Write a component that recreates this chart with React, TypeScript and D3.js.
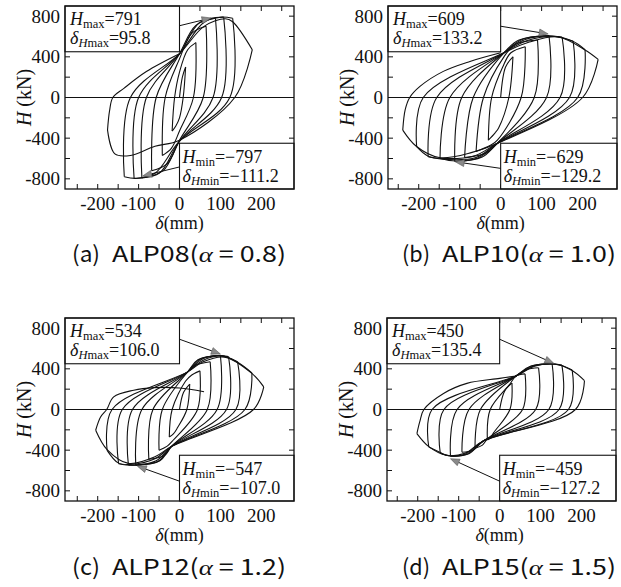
import React from 'react';
import * as d3 from 'd3';

type P = [number, number];

// ---------- axis ticks ----------
const X_TICKS = [-250, -200, -150, -100, -50, 0, 50, 100, 150, 200, 250];
const X_LABELS = [-200, -100, 0, 100, 200];
const Y_TICKS = [-800, -600, -400, -200, 0, 200, 400, 600, 800];
const Y_LABELS = [-800, -400, 0, 400, 800];

// ---------- (a) ALP08 ----------
const aPosPeaks: P[] = [[15, 300], [40, 540], [65, 700], [88, 780], [108, 791], [130, 780], [178, 470]];
const aPosKnees: P[][] = [[[7, 200]], [[20, 470]], [[30, 630]], [[40, 710]], [[50, 740]], [[60, 740], [100, 790]], [[60, 700], [112, 775], [130, 745]]];
const aPosPinch: P[] = [[0, 0], [0, 250], [0, 380], [0, 430], [0, 430], [0, 430], [0, 430]];
const aPosZero = [9, 34, 58, 82, 103, 123, 135];
const aNegPinch: P[] = [[0, -200], [0, -330], [0, -420], [0, -430], [0, -430], [0, -430], [0, -420]];
const aNegPeaks: P[] = [[-18, -330], [-42, -570], [-68, -720], [-92, -790], [-111, -797], [-135, -780], [-176, -320]];
const aNegKnees: P[][] = [[[-9, -280]], [[-20, -500]], [[-30, -650]], [[-40, -720]], [[-50, -745]], [[-60, -745], [-105, -795]], [[-60, -480], [-120, -570], [-158, -555]]];
const aNegZero = [-12, -35, -57, -81, -100, -120];
const aTail: P[] = [[-171, -130], [-163, 0], [-136, 90], [-81, 255], [0, 430]];
const aArrowUp: P[] = [[0, 706], [77, 782]];
const aArrowDown: P[] = [[0, -683], [-90, -772]];

// ---------- (b) ALP10 ----------
const bPosPeaks: P[] = [[30, 400], [60, 500], [90, 565], [118, 609], [150, 595], [177, 553], [206, 470], [238, 375]];
const bPosKnees: P[][] = [[[12, 300]], [[25, 440]], [[35, 520]], [[45, 565]], [[55, 575], [110, 605]], [[60, 570], [125, 605]], [[65, 560], [130, 600], [175, 555]], [[70, 545], [140, 595], [205, 470]]];
const bPosPinch: P[] = [[0, 0], [5, 300], [8, 400], [8, 440], [8, 440], [8, 440], [8, 440], [8, 440]];
const bPosZero = [20, 50, 82, 112, 145, 168, 188, 200];
const bNegPinch: P[] = [[-5, -300], [-8, -420], [-8, -450], [-8, -450], [-8, -450], [-8, -450], [-8, -450], [-8, -450]];
const bNegPeaks: P[] = [[-30, -420], [-60, -530], [-88, -590], [-112, -629], [-148, -600], [-177, -582], [-205, -484], [-239, -321]];
const bNegKnees: P[][] = [[[-14, -350]], [[-25, -470]], [[-35, -545]], [[-45, -585]], [[-55, -595], [-110, -625]], [[-60, -590], [-130, -610]], [[-65, -575], [-140, -600], [-178, -575]], [[-70, -540], [-150, -590], [-206, -480]]];
const bNegZero = [-22, -42, -67, -95, -124, -156, -189];
const bTail: P[] = [[-233, -120], [-222, 0], [-197, 109], [-140, 257], [-75, 355], [0, 440]];
const bArrowUp: P[] = [[0, 701], [116, 625]];
const bArrowDown: P[] = [[0, -697], [-111, -632]];

// ---------- (c) ALP12 ----------
const cPosPeaks: P[] = [[25, 250], [50, 380], [75, 470], [100, 534], [120, 520], [142, 470], [177, 361], [206, 223]];
const cPosKnees: P[][] = [[[10, 170]], [[30, 340]], [[35, 430]], [[45, 490]], [[50, 495], [95, 530]], [[55, 495], [100, 530]], [[58, 485], [105, 525], [142, 465]], [[58, 470], [110, 515], [177, 355]]];
const cPosPinch: P[] = [[0, 0], [15, 280], [20, 370], [20, 370], [20, 370], [20, 370], [20, 370], [20, 370]];
const cPosZero = [18, 44, 68, 92, 115, 138, 160, 181];
const cNegPinch: P[] = [[-5, -180], [-15, -300], [-20, -365], [-20, -365], [-20, -365], [-20, -365], [-20, -365], [-20, -365]];
const cNegPeaks: P[] = [[-25, -270], [-50, -400], [-75, -490], [-107, -547], [-125, -545], [-149, -533], [-177, -402], [-205, -204]];
const cNegKnees: P[][] = [[[-15, -240]], [[-30, -360]], [[-36, -450]], [[-48, -505]], [[-52, -510], [-100, -545]], [[-57, -505], [-112, -548]], [[-60, -485], [-120, -540], [-150, -525]], [[-60, -465], [-125, -530], [-177, -395]]];
const cNegZero = [-18, -42, -65, -92, -115, -140, -165];
const cTail: P[] = [[-193, -73], [-178, 0], [-161, 124], [-112, 190], [-62, 215], [0, 212], [60, 175]];
const cArrowUp: P[] = [[0, 691], [100, 546]];
const cArrowDown: P[] = [[0, -705], [-103, -557]];

// ---------- (d) ALP15 ----------
const dPosPeaks: P[] = [[30, 260], [62, 350], [95, 410], [128, 450], [152, 437], [177, 388], [207, 283]];
const dPosKnees: P[][] = [[[12, 180]], [[40, 330]], [[65, 390]], [[75, 425]], [[80, 430], [125, 450]], [[85, 430], [130, 448], [152, 432]], [[85, 425], [135, 445], [177, 383]]];
const dPosPinch: P[] = [[0, 0], [25, 250], [40, 330], [40, 330], [40, 330], [40, 330], [40, 330]];
const dPosZero = [25, 56, 88, 120, 145, 168, 185];
const dNegPinch: P[] = [[-15, -230], [-30, -290], [-40, -310], [-40, -310], [-40, -310], [-40, -310], [-40, -310]];
const dNegPeaks: P[] = [[-30, -300], [-60, -380], [-92, -420], [-120, -459], [-145, -428], [-173, -369], [-202, -237]];
const dNegKnees: P[][] = [[[-22, -280]], [[-42, -350]], [[-65, -400]], [[-75, -435]], [[-80, -440], [-118, -458]], [[-85, -440], [-125, -455], [-145, -423]], [[-85, -430], [-130, -450], [-173, -365]]];
const dNegZero = [-23, -47, -75, -104, -136, -165];
const dTail: P[] = [[-195, -120], [-185, 0], [-137, 158], [-80, 257], [0, 306], [40, 330]];
const dArrowUp: P[] = [[0, 691], [132, 454]];
const dArrowDown: P[] = [[0, -705], [-120, -484]];

// ---------- annotations ----------
const H_MAX = ['791', '609', '534', '450'];
const D_H_MAX = ['95.8', '133.2', '106.0', '135.4'];
const H_MIN = ['\u2212797', '\u2212629', '\u2212547', '\u2212459'];
const D_H_MIN = ['\u2212111.2', '\u2212129.2', '\u2212107.0', '\u2212127.2'];
const TAGS = ['(a)', '(b)', '(c)', '(d)'];
const SPECIMENS = ['ALP08', 'ALP10', 'ALP12', 'ALP15'];
const ALPHAS = ['0.8', '1.0', '1.2', '1.5'];

const SERIF = "'Liberation Serif', 'Times New Roman', serif";
const W = 229;
const HT = 183;

interface PanelData {
  posPeaks: P[]; posKnees: P[][]; posPinch: P[]; posZero: number[];
  negPinch: P[]; negPeaks: P[]; negKnees: P[][]; negZero: number[];
  tail: P[]; arrowUp: P[]; arrowDown: P[];
}

const PANELS: PanelData[] = [
  { posPeaks: aPosPeaks, posKnees: aPosKnees, posPinch: aPosPinch, posZero: aPosZero, negPinch: aNegPinch, negPeaks: aNegPeaks, negKnees: aNegKnees, negZero: aNegZero, tail: aTail, arrowUp: aArrowUp, arrowDown: aArrowDown },
  { posPeaks: bPosPeaks, posKnees: bPosKnees, posPinch: bPosPinch, posZero: bPosZero, negPinch: bNegPinch, negPeaks: bNegPeaks, negKnees: bNegKnees, negZero: bNegZero, tail: bTail, arrowUp: bArrowUp, arrowDown: bArrowDown },
  { posPeaks: cPosPeaks, posKnees: cPosKnees, posPinch: cPosPinch, posZero: cPosZero, negPinch: cNegPinch, negPeaks: cNegPeaks, negKnees: cNegKnees, negZero: cNegZero, tail: cTail, arrowUp: cArrowUp, arrowDown: cArrowDown },
  { posPeaks: dPosPeaks, posKnees: dPosKnees, posPinch: dPosPinch, posZero: dPosZero, negPinch: dNegPinch, negPeaks: dNegPeaks, negKnees: dNegKnees, negZero: dNegZero, tail: dTail, arrowUp: dArrowUp, arrowDown: dArrowDown },
];

const LAYOUT = [
  { x: 65, y: 6, dom: [-280, 280], capX: 72, capY: 262 },
  { x: 388, y: 6, dom: [-275, 284], capX: 402, capY: 262 },
  { x: 65, y: 318, dom: [-280, 280], capX: 72, capY: 575 },
  { x: 387, y: 318, dom: [-275, 284], capX: 402, capY: 575 },
];

function buildBranches(d: PanelData): P[][] {
  const br: P[][] = [];
  const n = d.posPeaks.length;
  for (let i = 0; i < n; i++) {
    const up: P[] = i === 0 ? [[0, 0]] : [d.negPeaks[i - 1], [d.negZero[i - 1], 0], d.posPinch[i]];
    up.push(...d.posKnees[i], d.posPeaks[i]);
    br.push(up);
    const dn: P[] = [d.posPeaks[i], [d.posZero[i], 0], d.negPinch[i], ...d.negKnees[i], d.negPeaks[i]];
    br.push(dn);
  }
  br.push([d.negPeaks[n - 1], ...d.tail]);
  return br;
}

function Arrow({ x1, y1, x2, y2 }: { x1: number; y1: number; x2: number; y2: number }) {
  const dx = x2 - x1, dy = y2 - y1;
  const len = Math.hypot(dx, dy);
  const ux = dx / len, uy = dy / len;
  const L = 9, w = 3.5;
  const bx = x2 - ux * L, by = y2 - uy * L;
  const pts = `${x2},${y2} ${bx - uy * w},${by + ux * w} ${bx + uy * w},${by - ux * w}`;
  return (
    <g>
      <line x1={x1} y1={y1} x2={bx} y2={by} stroke="#111" strokeWidth={1} />
      <polygon points={pts} fill="#8a8a8a" stroke="#555" strokeWidth={0.6} />
    </g>
  );
}

function BoxText({ x, y, sym, sub, val }: { x: number; y: number; sym: string; sub: string; val: string }) {
  const isDelta = sym === 'δ';
  return (
    <text x={x} y={y}>
      <tspan fontStyle="italic">{sym}</tspan>
      {isDelta ? <tspan fontSize={12.5} dy={3} fontStyle="italic">H</tspan> : null}
      {isDelta ? <tspan fontSize={12.5}>{sub}</tspan> : <tspan fontSize={12.5} dy={3}>{sub}</tspan>}
      <tspan dy={-3}>={val}</tspan>
    </text>
  );
}

function Panel({ idx }: { idx: number }) {
  const L = LAYOUT[idx];
  const d = PANELS[idx];
  const x0 = L.x, y0 = L.y, x1 = L.x + W, y1 = L.y + HT;
  const x = d3.scaleLinear().domain(L.dom).range([x0, x1]);
  const y = d3.scaleLinear().domain([-900, 900]).range([y1, y0]);
  const line = d3.line<P>().x(p => x(p[0])).y(p => y(p[1])).curve(d3.curveCatmullRom.alpha(0.5));
  const branches = buildBranches(d);
  const zx = x(0);
  const boxTopBottom = y(450);
  const boxBotTop = y(-450);
  const au = d.arrowUp, ad = d.arrowDown;
  return (
    <g>
      {Y_TICKS.map(v => (
        <g key={'y' + v}>
          <line x1={x0} x2={x0 + 5} y1={y(v)} y2={y(v)} stroke="#111" strokeWidth={1} />
          <line x1={x1} x2={x1 - 5} y1={y(v)} y2={y(v)} stroke="#111" strokeWidth={1} />
        </g>
      ))}
      {X_TICKS.map(v => (
        <g key={'x' + v}>
          <line x1={x(v)} x2={x(v)} y1={y1} y2={y1 - 5} stroke="#111" strokeWidth={1} />
          <line x1={x(v)} x2={x(v)} y1={y0} y2={y0 + 5} stroke="#111" strokeWidth={1} />
        </g>
      ))}
      {branches.map((b, i) => (
        <path key={i} d={line(b) || ''} fill="none" stroke="#111" strokeWidth={1.1} strokeLinejoin="round" />
      ))}
      <line x1={x0} x2={x1} y1={y(0)} y2={y(0)} stroke="#111" strokeWidth={1.1} />
      <rect x={x0} y={y0} width={zx - x0} height={boxTopBottom - y0} fill="#fff" stroke="#111" strokeWidth={1.1} />
      <rect x={zx} y={boxBotTop} width={x1 - zx} height={y1 - boxBotTop} fill="#fff" stroke="#111" strokeWidth={1.1} />
      <Arrow x1={x(au[0][0])} y1={y(au[0][1])} x2={x(au[1][0])} y2={y(au[1][1])} />
      <Arrow x1={x(ad[0][0])} y1={y(ad[0][1])} x2={x(ad[1][0])} y2={y(ad[1][1])} />
      <g fontFamily={SERIF} fontSize={18} fill="#111">
        <BoxText x={x0 + 5} y={y0 + 19} sym="H" sub="max" val={H_MAX[idx]} />
        <BoxText x={x0 + 5} y={y0 + 38} sym="δ" sub="max" val={D_H_MAX[idx]} />
        <BoxText x={zx + 3} y={boxBotTop + 20} sym="H" sub="min" val={H_MIN[idx]} />
        <BoxText x={zx + 3} y={boxBotTop + 39} sym="δ" sub="min" val={D_H_MIN[idx]} />
      </g>
      <rect x={x0} y={y0} width={W} height={HT} fill="none" stroke="#111" strokeWidth={1.3} />
      <g fontFamily={SERIF} fontSize={19} fill="#111">
        {Y_LABELS.map(v => (
          <text key={'yl' + v} x={x0 - 5} y={y(v) + 6.5} textAnchor="end">{String(v)}</text>
        ))}
        {X_LABELS.map(v => (
          <text key={'xl' + v} x={x(v)} y={y1 + 20.5} textAnchor="middle">{String(v)}</text>
        ))}
      </g>
      <text x={zx} y={y1 + 40} textAnchor="middle" fontFamily={SERIF} fontSize={18} fill="#111">
        <tspan fontStyle="italic">δ</tspan>(mm)
      </text>
      <text transform={`translate(${x0 - 34},${(y0 + y1) / 2}) rotate(-90)`} textAnchor="middle" fontFamily={SERIF} fontSize={20} fill="#111">
        <tspan fontStyle="italic">H</tspan> (kN)
      </text>
      <g fontFamily="'Noto Sans CJK JP', sans-serif" fontSize={22} fill="#111">
        <text x={L.capX} y={L.capY} textLength={28} lengthAdjust="spacingAndGlyphs">{TAGS[idx]}</text>
        <text x={L.capX + 40} y={L.capY} textLength={174} lengthAdjust="spacingAndGlyphs">
          {SPECIMENS[idx]}(<tspan fontFamily={SERIF} fontStyle="italic">α</tspan> = {ALPHAS[idx]})
        </text>
      </g>
    </g>
  );
}

export default function App() {
  return (
    <svg width={621} height={587} viewBox="0 0 621 587" style={{ position: 'absolute', left: 0, top: 0, background: '#fff' }}>
      <rect x={0} y={0} width={621} height={587} fill="#fff" />
      {[0, 1, 2, 3].map(i => <Panel key={i} idx={i} />)}
    </svg>
  );
}
